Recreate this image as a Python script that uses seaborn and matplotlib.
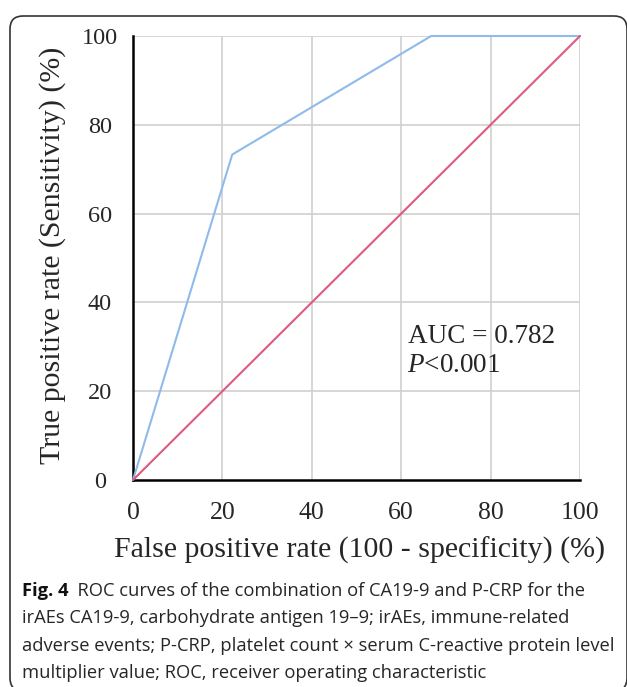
import matplotlib
matplotlib.use("Agg")
import matplotlib.pyplot as plt
import seaborn as sns
import pandas as pd
from matplotlib.patches import FancyBboxPatch

# ---- data ----
roc_fpr = [0, 22.2, 66.7, 100]
roc_tpr = [0, 73.3, 100, 100]
ref_fpr = [0, 100]
ref_tpr = [0, 100]
tick_values = [0, 20, 40, 60, 80, 100]
auc_text = "AUC = 0.782"
p_text = "$\\mathit{P}$<0.001"
xlabel = "False positive rate (100 - specificity) (%)"
ylabel = "True positive rate (Sensitivity) (%)"
caption_bold = "Fig. 4"
caption_lines = [
    "  ROC curves of the combination of CA19-9 and P-CRP for the",
    "irAEs CA19-9, carbohydrate antigen 19–9; irAEs, immune-related",
    "adverse events; P-CRP, platelet count × serum C-reactive protein level",
    "multiplier value; ROC, receiver operating characteristic",
]

sns.set_style("white")
plt.rcParams["font.family"] = ["Liberation Serif", "DejaVu Serif"]
plt.rcParams["mathtext.fontset"] = "custom"
plt.rcParams["mathtext.it"] = "Liberation Serif:italic"
plt.rcParams["mathtext.rm"] = "Liberation Serif"

W, H = 627, 687
fig = plt.figure(figsize=(W / 100, H / 100), dpi=100)

def px(x0, y0, x1, y1):
    return [x0 / W, 1 - y1 / H, (x1 - x0) / W, (y1 - y0) / H]

ax = fig.add_axes(px(133, 36, 580, 480))
AX_W, AX_H = 580 - 133, 480 - 36

roc_df = pd.DataFrame({"fpr": roc_fpr, "tpr": roc_tpr})
ref_df = pd.DataFrame({"fpr": ref_fpr, "tpr": ref_tpr})
sns.lineplot(data=roc_df, x="fpr", y="tpr", sort=False, ax=ax,
             color="#8fbaea", lw=1.5, clip_on=False, zorder=3)
sns.lineplot(data=ref_df, x="fpr", y="tpr", sort=False, ax=ax,
             color="#e05a7c", lw=1.5, clip_on=False, zorder=3)

ax.set_xlim(0, 100)
ax.set_ylim(0, 100)
ax.set_xticks(tick_values)
ax.set_yticks(tick_values)
ax.set_xticklabels([str(v) for v in tick_values])
ax.set_yticklabels([str(v) for v in tick_values], ha="center")
ax.grid(True, color="#d0d0d0", lw=1.2, zorder=0)
ax.set_axisbelow(True)
for s in ["top", "right"]:
    ax.spines[s].set_visible(False)
for s in ["left", "bottom"]:
    ax.spines[s].set_color("black")
    ax.spines[s].set_linewidth(1.8)
ax.tick_params(axis="x", which="major", direction="out", length=6.5,
               width=1.8, color="black", labelsize=18.5, pad=9.5)
ax.tick_params(axis="y", which="major", direction="out", length=9.5,
               width=1.8, color="black", labelsize=17.5, pad=14.4)
ax.xaxis.get_major_ticks()[0].tick1line.set_visible(False)
ax.yaxis.get_major_ticks()[0].tick1line.set_visible(False)
ax.xaxis.get_major_ticks()[0].gridline.set_visible(False)
ax.yaxis.get_major_ticks()[0].gridline.set_visible(False)

ax.set_xlabel(xlabel, fontsize=21.5)
ax.set_ylabel(ylabel, fontsize=21.5)
ax.xaxis.label.set_va("baseline")
ax.xaxis.set_label_coords(0.5 + 3.5 / AX_W, -(558 - 480) / AX_H)
ax.yaxis.label.set_va("baseline")
ax.yaxis.set_label_coords(-(133 - 60) / AX_W, (480 - 255) / AX_H)

ax.text(61.5, (480 - 343) / AX_H * 100, auc_text, fontsize=19.5, va="baseline", ha="left")
ax.text(61.3, (480 - 372) / AX_H * 100, p_text, fontsize=19.5, va="baseline", ha="left")

# rounded frame
frame = FancyBboxPatch((10 / 100, -4 / 100), (W + 0 - 10) / 100, (H - 16 + 4) / 100,
                       boxstyle="round,pad=0,rounding_size=0.13",
                       transform=fig.dpi_scale_trans, fill=False,
                       edgecolor="#333333", lw=1.2)
fig.patches.append(frame)

# caption
cap_font = ["Open Sans", "DejaVu Sans"]
cap_size = 13.2
baselines = [596, 623, 651, 678]
t0 = fig.text(22 / W, 1 - baselines[0] / H, caption_bold, family=cap_font,
              fontsize=cap_size, fontweight="bold", va="baseline", ha="left",
              color="#111111")
plt.annotate(caption_lines[0], xy=(1, 0), xycoords=t0, va="bottom", ha="left",
             family=cap_font, fontsize=cap_size, color="#262626",
             annotation_clip=False)
for line, b in zip(caption_lines[1:], baselines[1:]):
    fig.text(22 / W, 1 - b / H, line, family=cap_font, fontsize=cap_size,
             va="baseline", ha="left", color="#262626")

fig.savefig("out.png", dpi=100)
